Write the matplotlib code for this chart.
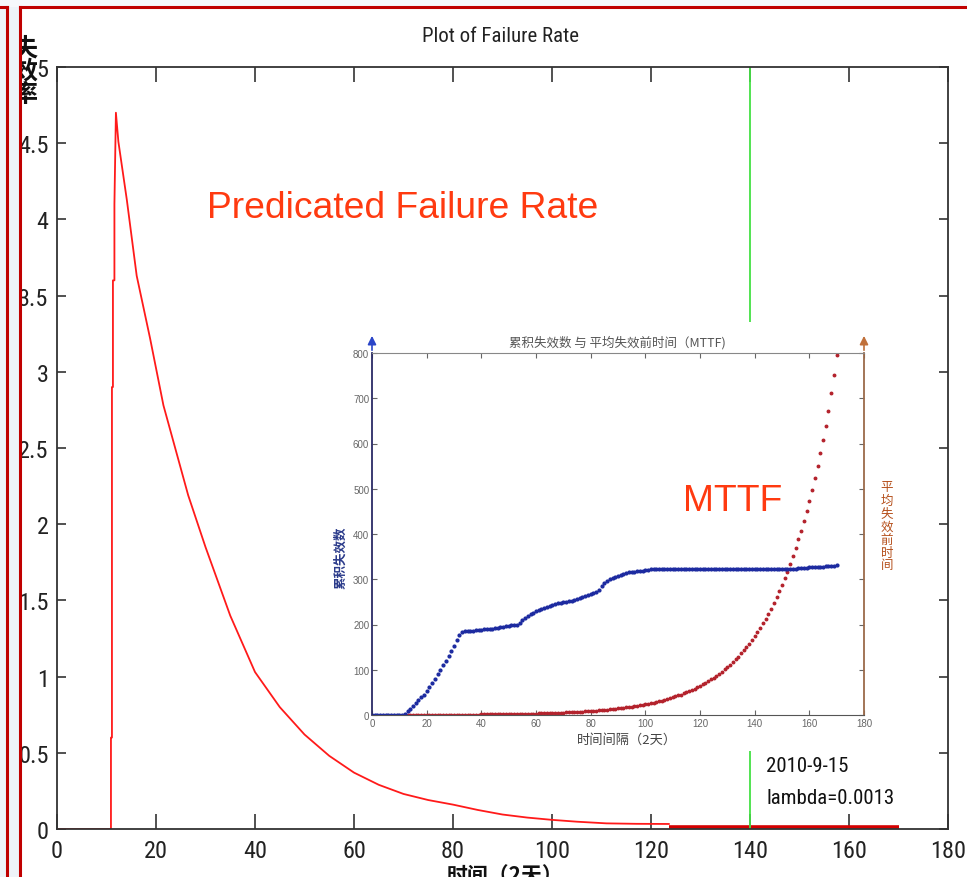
"""
Failure rate plot with the cumulative failures / MTTF inset
"""
import numpy as np
import matplotlib.pyplot as plt
from matplotlib.patches import Rectangle
from matplotlib.lines import Line2D

narrow = ['Roboto Condensed', 'Liberation Sans Narrow', 'DejaVu Sans']
arial = ['Liberation Sans', 'DejaVu Sans']
cjk = ['Noto Sans CJK SC', 'DejaVu Sans']

W, H = 967, 878

# main curve: predicted failure rate
rate_t = [0, 10.9, 10.9, 11.1, 11.1, 11.3, 11.3, 11.6, 11.6, 11.9, 12.4, 14.1, 16.1,
          18.8, 21.5, 26.5, 30, 35, 40, 45, 50, 55, 60, 65, 70, 75, 80, 85, 90, 95,
          100, 105, 111, 117, 123.6]
rate = [0, 0, 0.6, 0.6, 2.9, 2.9, 3.6, 3.6, 4.1, 4.70, 4.51, 4.13, 3.63,
        3.22, 2.78, 2.19, 1.85, 1.40, 1.03, 0.80, 0.62, 0.48, 0.37, 0.29, 0.23, 0.19,
        0.16, 0.125, 0.095, 0.075, 0.06, 0.048, 0.037, 0.034, 0.033]
tail_t = [123.6, 170]
tail = [0.012, 0.012]
mark_t = 140

x_ticks = [0, 20, 40, 60, 80, 100, 120, 140, 160, 180]
y_ticks = [0, 0.5, 1, 1.5, 2, 2.5, 3, 3.5, 4, 4.5, 5]
y_labels = ['0', '0.5', '1', '1.5', '2', '2.5', '3', '3.5', '4', '4.5', '5']

# inset: cumulative failures (blue) and MTTF (red), one point per interval
cum_t = np.arange(0, 171)
cum = [0, 0, 0, 0, 0, 0, 0, 0, 0, 0,
       0, 0, 2, 8, 14, 20, 27, 33, 39, 45,
       52, 61, 70, 80, 90, 100, 110, 120, 131, 142,
       153, 165, 176, 184, 185, 185, 186, 186, 187, 187,
       188, 189, 189, 190, 191, 192, 193, 194, 195, 196,
       197, 198, 199, 200, 204, 209, 214, 219, 223, 226,
       229, 232, 234, 237, 239, 241, 243, 245, 247, 248,
       249, 250, 251, 253, 255, 257, 259, 261, 263, 266,
       268, 270, 272, 276, 284, 291, 296, 300, 303, 305,
       307, 309, 311, 313, 315, 316, 317, 318, 318, 319,
       320, 321, 322, 322, 323, 323, 323, 323, 323, 323,
       323, 323, 323, 323, 323, 323, 323, 323, 323, 323,
       323, 323, 323, 323, 323, 323, 323, 323, 323, 323,
       323, 323, 323, 323, 323, 323, 323, 323, 323, 323,
       323, 323, 323, 323, 323, 323, 323, 323, 323, 323,
       323, 323, 323, 323, 323, 323, 324, 324, 325, 325,
       326, 326, 327, 327, 328, 328, 329, 329, 330, 330,
       331]
mttf_t = np.arange(12, 171)
mttf = [0.3, 0.3, 0.3, 0.4, 0.4, 0.4, 0.4, 0.4,
        0.5, 0.5, 0.5, 0.5, 0.6, 0.6, 0.6, 0.6, 0.7, 0.7,
        0.7, 0.8, 0.8, 0.8, 0.9, 0.9, 1.0, 1.0, 1.1, 1.1,
        1.2, 1.2, 1.3, 1.4, 1.4, 1.5, 1.6, 1.7, 1.8, 1.9,
        2.0, 2.1, 2.2, 2.3, 2.4, 2.5, 2.6, 2.8, 2.9, 3.1,
        3.2, 3.4, 3.6, 3.7, 3.9, 4.1, 4.3, 4.6, 4.8, 5.0,
        5.3, 5.6, 5.9, 6.2, 6.5, 6.8, 7.2, 7.5, 7.9, 8.3,
        8.8, 9.2, 9.7, 10.2, 10.7, 11.2, 11.8, 12.4, 13.0, 13.7,
        14.4, 15.1, 15.9, 16.7, 17.6, 18.5, 19.4, 20.4, 21.4, 22.5,
        23.7, 24.9, 26.2, 27.5, 28.9, 30.4, 32, 33.6, 35.3, 37.1,
        39, 41, 43.1, 45.3, 47.7, 50.1, 52.7, 55.4, 58.2, 61.2,
        64.3, 67.6, 71, 74.7, 78.5, 82.5, 86.7, 91.2, 95.8, 100.7,
        105.9, 111, 117, 123, 129, 136, 143, 150, 158, 166,
        174, 183, 193, 203, 213, 224, 235, 247, 260, 273,
        287, 302, 317, 334, 351, 369, 388, 407, 428, 450,
        473, 497, 523, 550, 578, 607, 638, 671, 712, 752,
        795]
in_x_ticks = [0, 20, 40, 60, 80, 100, 120, 140, 160, 180]
in_y_ticks = [0, 100, 200, 300, 400, 500, 600, 700, 800]


def fx(px):
    return px / W


def fy(py):
    return 1 - py / H


fig = plt.figure(figsize=(W / 100, H / 100), dpi=100)
fig.patch.set_facecolor('white')

# ---- main axes ----
ax = fig.add_axes([fx(57), fy(830), 891 / W, 762 / H])
ax.plot(rate_t, rate, color='#ff1a1a', lw=1.3)
ax.plot(tail_t, tail, color='#d40000', lw=2.6, solid_capstyle='butt')
ax.axvline(mark_t, color='#44e044', lw=1.3)
ax.set_xlim(0, 180)
ax.set_ylim(0, 5)
ax.set_xticks(x_ticks)
ax.set_yticks(y_ticks)
ax.set_yticklabels(y_labels)
ax.tick_params(axis='x', direction='in', top=True, length=11, width=1.1, pad=7,
               labelsize=17.5, colors='#222222')
ax.tick_params(axis='y', direction='in', right=True, length=6.5, width=1.1, pad=6,
               labelsize=17.5, colors='#222222')
for lab in ax.get_xticklabels() + ax.get_yticklabels():
    lab.set_fontfamily(narrow)
    lab.set_fontstretch('condensed')
for sp in ax.spines.values():
    sp.set_color('#333333')
    sp.set_linewidth(1.3)

fig.text(fx(500), fy(36), 'Plot of Failure Rate', ha='center', va='center',
         fontsize=15, family=narrow, fontstretch='condensed', color='#222222')
fig.text(fx(207), fy(208), 'Predicated Failure Rate', ha='left', va='center',
         fontsize=26.8, family=arial, color='#ff3a10')
fig.text(fx(766), fy(767), '2010-9-15', ha='left', va='center',
         fontsize=15, family=narrow, fontstretch='condensed', color='#111111')
fig.text(fx(766), fy(799), 'lambda=0.0013', ha='left', va='center',
         fontsize=15, family=narrow, fontstretch='condensed', color='#111111')
fig.text(fx(505), fy(865), '时间（2天）', ha='center', va='top',
         fontsize=15, family=cjk, fontweight='bold', color='#111111')
fig.text(fx(25), fy(72), '失\n效\n率', ha='center', va='center', fontsize=18,
         family=cjk, fontweight='bold', color='#111111', linespacing=0.95)

# ---- inset (pasted picture) ----
fig.add_artist(Rectangle((fx(335), fy(752)), 565 / W, 429 / H, transform=fig.transFigure,
                         facecolor='white', edgecolor='none', zorder=2))
ins = fig.add_axes([fx(372), fy(716), 492 / W, 362 / H])
ins.set_zorder(3)
ins.plot(mttf_t, mttf, '.', ms=3.6, color='#b4232d')
ins.plot(cum_t, cum, '.', ms=4.0, color='#1c2aa0')
ins.set_xlim(0, 180)
ins.set_ylim(0, 800)
ins.set_xticks(in_x_ticks)
ins.set_yticks(in_y_ticks)
ins.tick_params(direction='in', top=True, right=True, length=3.5, width=0.8,
                labelsize=7, colors='#666666', pad=2)
for lab in ins.get_xticklabels() + ins.get_yticklabels():
    lab.set_fontfamily(arial)
ins.spines['left'].set_color('#2b2b66')
ins.spines['left'].set_linewidth(1.3)
ins.spines['right'].set_color('#9b6a4a')
ins.spines['right'].set_linewidth(1.3)
ins.spines['top'].set_color('#888888')
ins.spines['bottom'].set_color('#555555')

# axis arrows above the inset
ins.annotate('', xy=(0, 1.055), xytext=(0, 1.0), xycoords='axes fraction',
             arrowprops=dict(arrowstyle='-|>,head_width=0.25,head_length=0.5',
                             color='#2a45c8', lw=1.2), annotation_clip=False)
ins.annotate('', xy=(1, 1.055), xytext=(1, 1.0), xycoords='axes fraction',
             arrowprops=dict(arrowstyle='-|>,head_width=0.25,head_length=0.5',
                             color='#c0703a', lw=1.2), annotation_clip=False)

fig.text(fx(617), fy(343), '累积失效数 与 平均失效前时间（MTTF)', ha='center', va='center',
         fontsize=9, family=cjk, color='#555555', zorder=5)
fig.text(fx(341), fy(558), '累积失效数', ha='center', va='center', rotation=90,
         fontsize=9, family=cjk, color='#2a3a8a', fontweight='bold', zorder=5)
fig.text(fx(887), fy(527), '平\n均\n失\n效\n前\n时\n间', ha='center', va='center',
         fontsize=9, family=cjk, color='#b5501c', linespacing=1.0, zorder=5)
fig.text(fx(627), fy(740), '时间间隔（2天）', ha='center', va='center',
         fontsize=9.5, family=cjk, color='#444444', zorder=5)
fig.text(fx(683), fy(502), 'MTTF', ha='left', va='center',
         fontsize=26.8, family=arial, color='#ff3a10', zorder=6)

# ---- slide frame on the left and top ----
fig.add_artist(Rectangle((0, 0), fx(20), 1, transform=fig.transFigure,
                         facecolor='#eef3f8', edgecolor='none', zorder=9))
fig.add_artist(Rectangle((0, fy(8)), 1, 8 / H, transform=fig.transFigure,
                         facecolor='#f6f8fb', edgecolor='none', zorder=9))
red = '#c00000'
fig.add_artist(Line2D([fx(7), fx(7)], [0, fy(8)], transform=fig.transFigure,
                      color=red, lw=2.2, zorder=10))
fig.add_artist(Line2D([0, fx(7)], [fy(8), fy(8)], transform=fig.transFigure,
                      color=red, lw=2.2, zorder=10))
fig.add_artist(Line2D([fx(20), fx(20)], [0, fy(8)], transform=fig.transFigure,
                      color=red, lw=2.2, zorder=10))
fig.add_artist(Line2D([fx(20), 1], [fy(8), fy(8)], transform=fig.transFigure,
                      color=red, lw=2.2, zorder=10))

fig.savefig('out.png', dpi=100, facecolor='white')
plt.close(fig)
